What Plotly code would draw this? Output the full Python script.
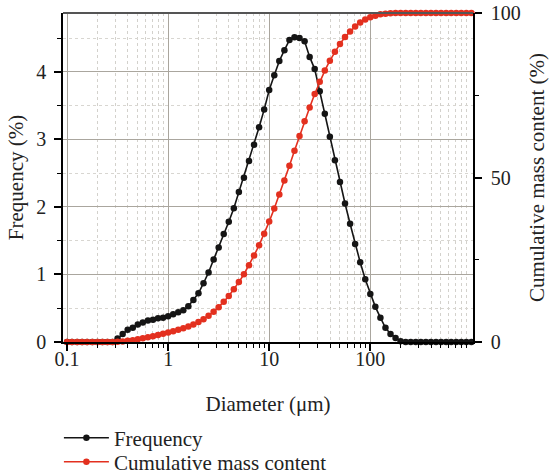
import plotly.graph_objects as go

# Particle size classes (µm)
diameter = [0.1, 0.112, 0.126, 0.141, 0.158, 0.178, 0.2, 0.224, 0.251, 0.282,
            0.316, 0.355, 0.398, 0.447, 0.501, 0.562, 0.631, 0.708, 0.794, 0.891,
            1.0, 1.122, 1.259, 1.413, 1.585, 1.778, 1.995, 2.239, 2.512, 2.818,
            3.162, 3.548, 3.981, 4.467, 5.012, 5.623, 6.31, 7.079, 7.943, 8.913,
            10.0, 11.22, 12.59, 14.13, 15.85, 17.78, 19.95, 22.39, 25.12, 28.18,
            31.62, 35.48, 39.81, 44.67, 50.12, 56.23, 63.1, 70.79, 79.43, 89.13,
            100.0, 112.2, 125.9, 141.3, 158.5, 177.8, 199.5, 223.9, 251.2, 281.8,
            316.2, 354.8, 398.1, 446.7, 501.2, 562.3, 631.0, 707.9, 794.3, 891.3,
            1000.0]

# Frequency (%)
frequency = [0, 0, 0, 0, 0, 0, 0, 0, 0, 0,
             0.05, 0.12, 0.18, 0.21, 0.26, 0.29, 0.32, 0.33, 0.35, 0.36,
             0.38, 0.41, 0.44, 0.47, 0.53, 0.62, 0.72, 0.87, 1.03, 1.22,
             1.40, 1.60, 1.78, 1.98, 2.22, 2.43, 2.68, 2.92, 3.18, 3.44,
             3.73, 3.95, 4.16, 4.32, 4.47, 4.51, 4.50, 4.45, 4.22, 4.04,
             3.71, 3.38, 3.04, 2.69, 2.37, 2.05, 1.75, 1.45, 1.18, 0.93,
             0.71, 0.52, 0.36, 0.21, 0.12, 0.06, 0.01, 0, 0, 0,
             0, 0, 0, 0, 0, 0, 0, 0, 0, 0,
             0]

# Cumulative mass content (%)
cumulative = [0, 0, 0, 0, 0, 0, 0, 0, 0, 0,
              0.05, 0.17, 0.35, 0.56, 0.82, 1.11, 1.43, 1.76, 2.11, 2.47,
              2.86, 3.27, 3.71, 4.18, 4.72, 5.34, 6.06, 6.93, 7.97, 9.19,
              10.6, 12.2, 14.0, 16.0, 18.2, 20.6, 23.3, 26.3, 29.4, 32.9,
              36.6, 40.6, 44.8, 49.1, 53.6, 58.1, 62.6, 67.1, 71.3, 75.4,
              79.1, 82.5, 85.5, 88.2, 90.6, 92.7, 94.4, 95.9, 97.1, 98.0,
              98.7, 99.2, 99.6, 99.8, 99.9, 100, 100, 100, 100, 100,
              100, 100, 100, 100, 100, 100, 100, 100, 100, 100,
              100]

x_tickvals = [0.1, 1, 10, 100]
x_ticktext = ["0.1", "1", "10", "100"]
y_tickvals = [0, 1, 2, 3, 4]
y2_tickvals = [0, 50, 100]

assert len(diameter) == len(frequency) == len(cumulative)

BLACK = "#151515"
RED = "#e3301f"
FONT = "Liberation Serif"
TXT = "#222"

minor_x = [m * d for d in (0.1, 1, 10, 100) for m in range(2, 10)]

fig = go.Figure()
fig.add_trace(go.Scatter(
    x=diameter, y=frequency, name="Frequency", mode="lines+markers",
    line=dict(color=BLACK, width=1.6), marker=dict(size=6.5, color=BLACK),
    cliponaxis=False, legend="legend"))
fig.add_trace(go.Scatter(
    x=diameter, y=cumulative, name="Cumulative mass content", yaxis="y2",
    mode="lines+markers",
    line=dict(color=RED, width=1.6), marker=dict(size=6.5, color=RED),
    cliponaxis=False, legend="legend2"))

legend_common = dict(xanchor="left", yanchor="middle",
                     font=dict(family=FONT, size=21, color=TXT),
                     itemwidth=45, bgcolor="rgba(0,0,0,0)")

fig.update_layout(
    width=549, height=475,
    margin=dict(l=63, r=76, t=13, b=133, autoexpand=False),
    paper_bgcolor="white", plot_bgcolor="white",
    font=dict(family=FONT, size=20, color=TXT),
    showlegend=True,
    legend=dict(x=-0.01, y=-0.292, **legend_common),
    legend2=dict(x=-0.01, y=-0.365, **legend_common),
    xaxis=dict(
        type="log", range=[-1.04, 3.016],
        tickmode="array", tickvals=x_tickvals, ticktext=x_ticktext,
        ticks="outside", ticklen=7, tickwidth=1.5, tickcolor="black",
        showline=True, linecolor="black", linewidth=1.5,
        showgrid=True, gridcolor="#aaa69e", gridwidth=1,
        zeroline=False, ticklabelstandoff=-9,
        tickfont=dict(family=FONT, size=20, color=TXT),
        title=dict(text="Diameter (μm)", standoff=28,
                   font=dict(family=FONT, size=21, color=TXT)),
        minor=dict(tickmode="array", tickvals=minor_x, ticks="outside",
                   ticklen=4, tickwidth=1.2, tickcolor="black",
                   showgrid=True, gridcolor="#d3d1cc", griddash="dot",
                   gridwidth=1),
        automargin=False,
    ),
    yaxis=dict(
        range=[0, 4.87],
        tickmode="array", tickvals=y_tickvals,
        ticks="outside", ticklen=7, tickwidth=1.5, tickcolor="black",
        showline=True, linecolor="black", linewidth=1.5,
        showgrid=True, gridcolor="#aaa69e", gridwidth=1,
        zeroline=False, ticklabelstandoff=4,
        tickfont=dict(family=FONT, size=20, color=TXT),
        title=dict(text="Frequency (%)", standoff=7,
                   font=dict(family=FONT, size=21, color=TXT)),
        minor=dict(tickmode="linear", tick0=0, dtick=0.5, ticks="outside",
                   ticklen=4, tickwidth=1.2, tickcolor="black",
                   showgrid=True, gridcolor="#d8d6d1", griddash="dot",
                   gridwidth=1),
        automargin=False,
    ),
    yaxis2=dict(
        overlaying="y", side="right", range=[0, 100],
        tickmode="array", tickvals=y2_tickvals,
        ticks="outside", ticklen=7, tickwidth=1.5, tickcolor="black",
        showline=True, linecolor="black", linewidth=1.5,
        showgrid=False, zeroline=False, ticklabelstandoff=5,
        ticklabeloverflow="allow",
        tickfont=dict(family=FONT, size=20, color=TXT),
        title=dict(text="Cumulative mass content (%)", standoff=20,
                   font=dict(family=FONT, size=21, color=TXT)),
        minor=dict(tickmode="linear", tick0=0, dtick=25, ticks="outside",
                   ticklen=4, tickwidth=1.2, tickcolor="black",
                   showgrid=False),
        automargin=False,
    ),
    shapes=[dict(type="line", xref="paper", yref="paper", x0=0, x1=1,
                 y0=1, y1=1, line=dict(color="#555", width=2))],
)

# remove the browser's default 8px body margin so the figure fills the window
fig.write_html("out.html",
               config={"displayModeBar": False},
               post_script="document.body.style.margin='0';"
                           "document.body.style.overflow='hidden';")
